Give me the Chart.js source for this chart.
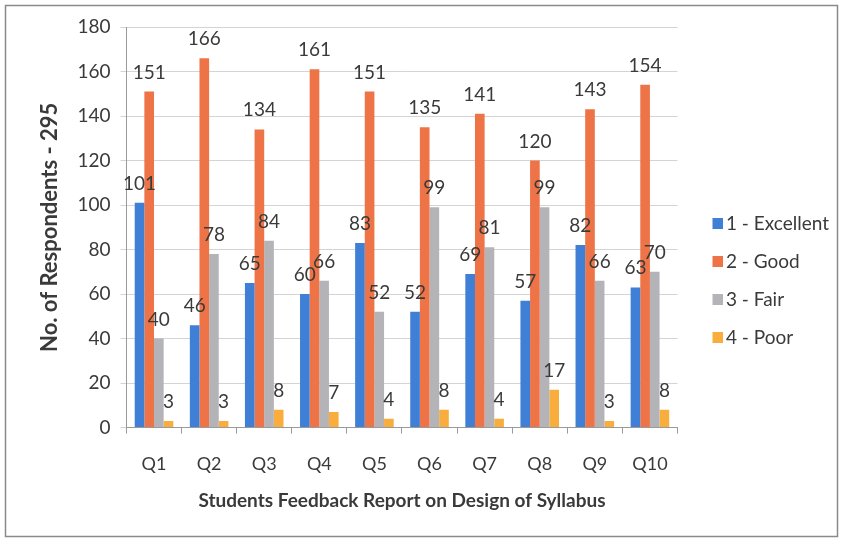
<!DOCTYPE html>
<html>
<head>
<meta charset="utf-8">
<script src="https://cdn.jsdelivr.net/npm/chart.js@4.4.1/dist/chart.umd.min.js"></script>
<style>
  html, body { margin: 0; padding: 0; background: #fff; }
  #wrap { width: 843px; height: 542px; position: relative; }
</style>
</head>
<body>
<div id="wrap"><canvas id="chart"></canvas></div>
<script>
// values
const questions = ['Q1', 'Q2', 'Q3', 'Q4', 'Q5', 'Q6', 'Q7', 'Q8', 'Q9', 'Q10'];
const excellent = [101, 46, 65, 60, 83, 52, 69, 57, 82, 63];
const good = [151, 166, 134, 161, 151, 135, 141, 120, 143, 154];
const fair = [40, 78, 84, 66, 52, 99, 81, 99, 66, 70];
const poor = [3, 3, 8, 7, 4, 8, 4, 17, 3, 8];

const seriesNames = ['1 - Excellent', '2 - Good', '3 - Fair', '4 - Poor'];
const seriesColors = ['#3f7fd6', '#ee7347', '#b4b4b8', '#f9ad3c'];
const yTitle = 'No. of Respondents - 295';
const xTitle = 'Students Feedback Report on Design of Syllabus';

const fontFam = 'Lato, "Open Sans", sans-serif';
const textColor = '#3a3a3a';

// frame round the whole chart
const framePlugin = {
  id: 'frame',
  beforeDraw(chart) {
    const ctx = chart.ctx;
    ctx.save();
    ctx.fillStyle = '#fff';
    ctx.fillRect(0, 0, chart.width, chart.height);
    ctx.strokeStyle = '#8a8a8a';
    ctx.lineWidth = 1.5;
    ctx.strokeRect(5.5, 5.5, chart.width - 11, chart.height - 11);
    ctx.restore();
  }
};

// value labels above each bar
const valueLabels = {
  id: 'valueLabels',
  afterDatasetsDraw(chart) {
    const ctx = chart.ctx;
    ctx.save();
    ctx.font = '19px ' + fontFam;
    ctx.fillStyle = textColor;
    ctx.textAlign = 'center';
    ctx.textBaseline = 'alphabetic';
    chart.data.datasets.forEach((ds, i) => {
      const meta = chart.getDatasetMeta(i);
      meta.data.forEach((bar, j) => {
        ctx.fillText(ds.data[j], bar.x, bar.y - 13);
      });
    });
    ctx.restore();
  }
};

// legend swatch: square on the right, empty space on the left
// (wider gap between plot and legend, square sits close to the text)
const swatchW = 20, swatchBox = 11, swatchCanvasW = 34;
function makeSwatch(color) {
  const c = document.createElement('canvas');
  c.width = swatchCanvasW;
  c.height = swatchBox;
  const g = c.getContext('2d');
  g.fillStyle = color;
  g.fillRect(swatchCanvasW - swatchBox, 0, swatchBox, swatchBox);
  return c;
}
const swatches = seriesColors.map(makeSwatch);

const lists = [excellent, good, fair, poor];
const datasets = lists.map((vals, i) => ({
  label: seriesNames[i],
  data: vals,
  backgroundColor: seriesColors[i],
  borderWidth: 0,
  barPercentage: 1.0,
  categoryPercentage: 0.7
}));

new Chart(document.getElementById('chart'), {
  type: 'bar',
  data: { labels: questions, datasets: datasets },
  options: {
    responsive: true,
    maintainAspectRatio: false,
    animation: false,
    layout: { padding: { top: 27, left: 30, right: 4, bottom: 8 } },
    plugins: {
      tooltip: { enabled: false },
      legend: {
        position: 'right',
        align: 'center',
        labels: {
          usePointStyle: true,
          pointStyleWidth: swatchW,
          boxHeight: swatchBox,
          padding: 19,
          color: textColor,
          font: { size: 19, family: fontFam },
          generateLabels: (chart) =>
            Chart.defaults.plugins.legend.labels.generateLabels(chart)
              .map((item, i) => ({ ...item, pointStyle: swatches[i] }))
        }
      }
    },
    scales: {
      x: {
        grid: { display: true, drawOnChartArea: false, offset: true, tickLength: 6, color: '#9a9a9a' },
        border: { color: '#9a9a9a' },
        ticks: { color: textColor, font: { size: 18, family: fontFam }, padding: 20 },
        title: {
          display: true,
          text: xTitle,
          color: textColor,
          font: { size: 19, weight: 'bold', family: fontFam },
          padding: { top: -6, bottom: 22 }
        }
      },
      y: {
        min: 0,
        max: 180,
        ticks: { stepSize: 20, color: textColor, font: { size: 19, family: fontFam }, padding: 10 },
        grid: { color: '#d4d4d4', tickLength: 6 },
        border: { color: '#9a9a9a' },
        title: {
          display: true,
          text: yTitle,
          color: textColor,
          font: { size: 22, weight: 'bold', family: fontFam },
          padding: { top: 7, bottom: 4 }
        }
      }
    }
  },
  plugins: [framePlugin, valueLabels]
});
</script>
</body>
</html>
